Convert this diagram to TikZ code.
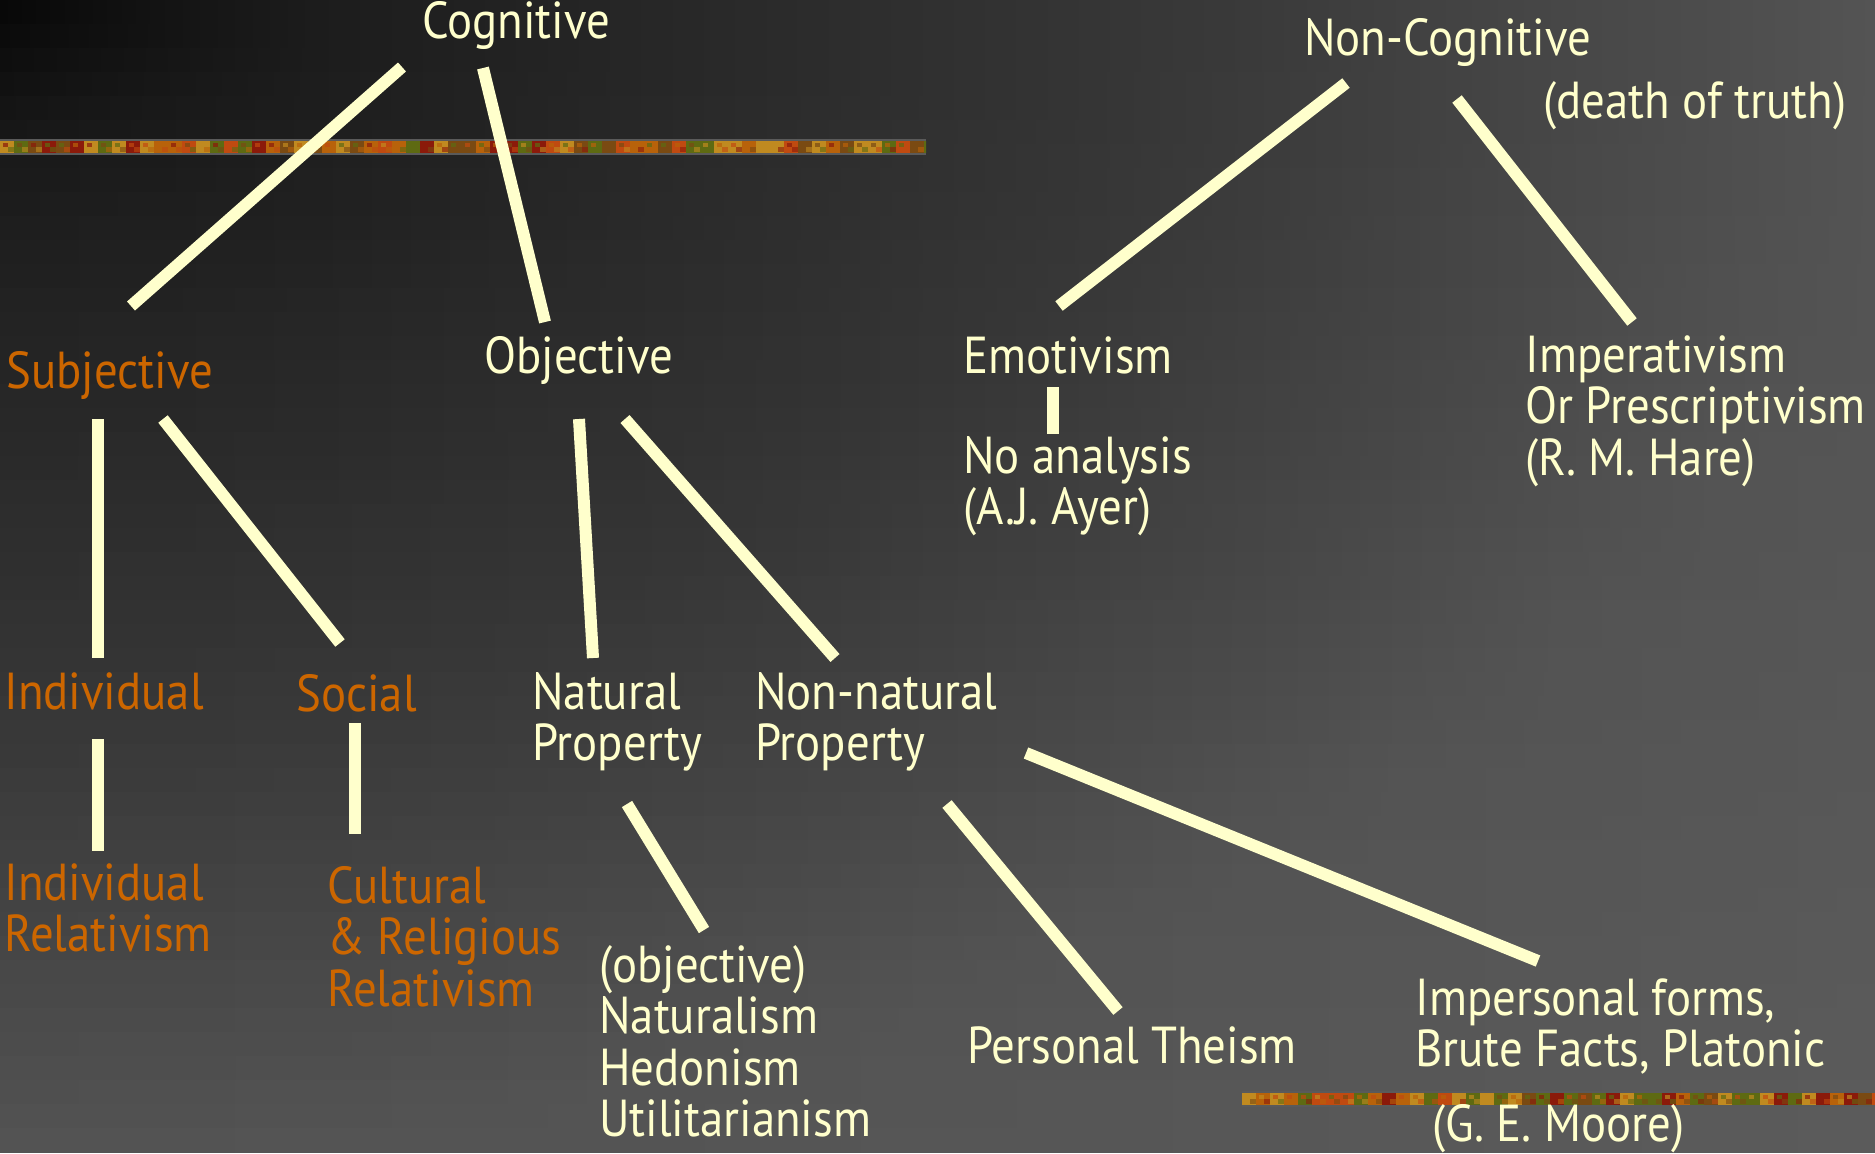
\documentclass[tikz,border=0pt]{standalone}
\usepackage{fontspec}
\setmainfont{PT Sans}[FakeStretch=0.9]
\definecolor{cream}{HTML}{FFFFCC}
\definecolor{orng}{HTML}{CC6600}
\definecolor{bar1}{HTML}{B8620A}
\definecolor{bar2}{HTML}{8B1A0A}
\definecolor{bar3}{HTML}{5E6A12}
\definecolor{bar4}{HTML}{C08A20}
\definecolor{bar5}{HTML}{C04A10}
\definecolor{bar6}{HTML}{7A4A12}
\definecolor{barline}{HTML}{5A5A5A}
% grey level of the background at a point (pixels)
\newcommand{\bggray}[2]{%
  \pgfmathsetmacro{\bgd}{sqrt((#1/1875)^2+(#2/1153)^2)}%
  \pgfmathsetmacro{\gv}{int(\bgd<0.13 ? 7+\bgd/0.13*19 : (\bgd<0.39 ? 26+(\bgd-0.13)/0.26*16 : (\bgd<0.63 ? 42+(\bgd-0.39)/0.24*14 : (\bgd<1 ? 56+(\bgd-0.63)/0.37*28 : 84+(\bgd-1)/0.42*8))))}%
}
\newcommand{\texbar}[3]{%
  \begin{scope}
    \clip (#1,#3) rectangle (#2,#3+12);
    \foreach \i in {0,...,70} {
      \pgfmathsetmacro{\cc}{int(random(1,6))}
      \pgfmathsetmacro{\dd}{int(random(1,6))}
      \pgfmathsetmacro{\ee}{int(random(1,6))}
      \fill[bar\cc] ({#1+\i*14},#3) rectangle ++(14,12);
      \fill[bar\dd,opacity=0.7] ({#1+\i*14+3},#3+2) rectangle ++(5,4);
      \fill[bar\ee,opacity=0.6] ({#1+\i*14+8},#3+6) rectangle ++(6,5);
    }
  \end{scope}
  \draw[barline,line width=0.8pt] (#1,#3-1) -- (#2,#3-1);
  \draw[barline,line width=0.8pt] (#1,#3+13) -- (#2,#3+13);
}
\begin{document}
\begin{tikzpicture}[x=0.5pt,y=-0.5pt,
  lbl/.style={anchor=base west, inner sep=0pt, text=cream, align=left,
    font=\fontsize{26}{25.75}\selectfont},
  olbl/.style={lbl, text=orng},
  conn/.style={draw=cream, line width=6pt}]
\useasboundingbox (0,0) rectangle (1875,1153);
% background: grey gradient, dark at the top left
\begin{scope}
  \clip (0,0) rectangle (1875,1153);
  \foreach \j in {0,...,47} {
    \foreach \i in {0,...,11} {
      \pgfmathsetmacro{\ya}{\j*24+12}
      \pgfmathsetmacro{\xa}{\i*156.25}
      \pgfmathsetmacro{\xb}{\xa+156.25}
      \bggray{\xa}{\ya}\let\gA\gv
      \bggray{\xb}{\ya}\let\gB\gv
      \definecolor{cA}{RGB}{\gA,\gA,\gA}
      \definecolor{cB}{RGB}{\gB,\gB,\gB}
      \shade[left color=cA, right color=cB]
        (\xa,\j*24) rectangle (\xb+0.6,\j*24+24.6);
    }
  }
\end{scope}
\pgfmathsetseed{17}
\texbar{0}{926}{141}
\texbar{1242}{1875}{1093}

% nodes (anchor = baseline of the last line)
\node[lbl]  (cog)     at (422,38)   {Cognitive};
\node[lbl]  (noncog)  at (1304,55)  {Non-Cognitive};
\node[lbl]  (death)   at (1543,118) {(death of truth)};
\node[olbl] (subj)    at (6,388)    {Subjective};
\node[lbl]  (obj)     at (484,373)  {Objective};
\node[lbl]  (emot)    at (963,373)  {Emotivism};
\node[lbl]  (imper)   at (1525,475) {Imperativism\\Or Prescriptivism\\(R. M. Hare)};
\node[lbl]  (noan)    at (963,524.5) {No analysis\\(A.J. Ayer)};
\node[olbl] (indiv)   at (4,709)    {Individual};
\node[olbl] (social)  at (296,711)  {Social};
\node[lbl]  (natural) at (532,760.5) {Natural\\Property};
\node[lbl]  (nonnat)  at (755,760.5) {Non-natural\\Property};
\node[olbl] (indrel)  at (4,951.5)  {Individual\\Relativism};
\node[olbl] (cult)    at (327,1006) {Cultural\\\& Religious\\Relativism};
\node[lbl]  (objnat)  at (599,1136.5) {(objective)\\Naturalism\\Hedonism\\Utilitarianism};
\node[lbl]  (theism)  at (967,1063) {Personal Theism};
\node[lbl]  (impers)  at (1415,1066.5) {Impersonal forms,\\Brute Facts, Platonic};
\node[lbl]  (moore)   at (1432,1141) {(G. E. Moore)};

% connector end points
\coordinate (cogA) at (402,67);   \coordinate (subjA) at (131,306);
\coordinate (cogB) at (483,68);   \coordinate (objA) at (545,322);
\coordinate (ncA) at (1346,83);   \coordinate (emotA) at (1059,306);
\coordinate (ncB) at (1457,99);   \coordinate (impA) at (1632,322);
\coordinate (emotB) at (1053,387); \coordinate (noanA) at (1053,434);
\coordinate (subjB) at (98,419);  \coordinate (indA) at (98,658);
\coordinate (subjC) at (163,419); \coordinate (socA) at (340,643);
\coordinate (objB) at (579,419);  \coordinate (natA) at (593,658);
\coordinate (objC) at (625,419);  \coordinate (nnA) at (835,658);
\coordinate (indB) at (98,739);   \coordinate (irA) at (98,851);
\coordinate (socB) at (354.5,723); \coordinate (cuA) at (354.5,834);
\coordinate (natB) at (627,804);  \coordinate (onA) at (704,930);
\coordinate (nnB) at (947,804);   \coordinate (thA) at (1118,1011);
\coordinate (nnC) at (1026,753);  \coordinate (ipA) at (1538,961);

\draw[conn] (cogA) -- (subjA);
\draw[conn] (cogB) -- (objA);
\draw[conn] (ncA) -- (emotA);
\draw[conn] (ncB) -- (impA);
\draw[conn] (emotB) -- (noanA);
\draw[conn] (subjB) -- (indA);
\draw[conn] (subjC) -- (socA);
\draw[conn] (objB) -- (natA);
\draw[conn] (objC) -- (nnA);
\draw[conn] (indB) -- (irA);
\draw[conn] (socB) -- (cuA);
\draw[conn] (natB) -- (onA);
\draw[conn] (nnB) -- (thA);
\draw[conn] (nnC) -- (ipA);
\end{tikzpicture}
\end{document}
